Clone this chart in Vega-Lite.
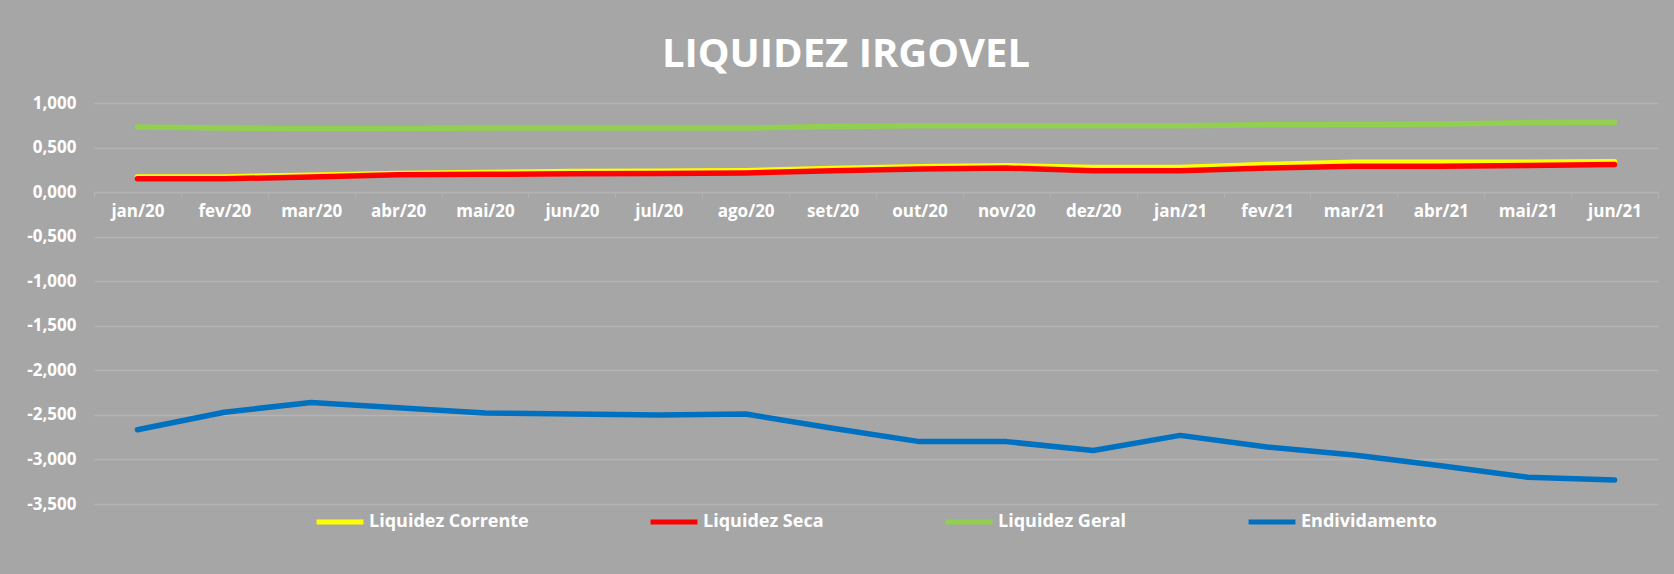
{
  "$schema": "https://vega.github.io/schema/vega-lite/v6.json",
  "autosize": {"type": "none"},
  "width": 1564,
  "height": 401,
  "padding": {"left": 94, "top": 103, "right": 16, "bottom": 70},
  "background": "#a6a6a6",
  "title": {
    "text": "LIQUIDEZ IRGOVEL",
    "font": "Open Sans",
    "fontSize": 40,
    "fontWeight": "bold",
    "color": "#ffffff",
    "anchor": "middle",
    "dx": -30,
    "offset": 19
  },
  "data": {
    "values": [
      {"mes": "jan/20", "Liquidez Corrente": 0.17, "Liquidez Seca": 0.15, "Liquidez Geral": 0.73, "Endividamento": -2.666},
      {"mes": "fev/20", "Liquidez Corrente": 0.17, "Liquidez Seca": 0.15, "Liquidez Geral": 0.72, "Endividamento": -2.47},
      {"mes": "mar/20", "Liquidez Corrente": 0.19, "Liquidez Seca": 0.17, "Liquidez Geral": 0.71, "Endividamento": -2.36},
      {"mes": "abr/20", "Liquidez Corrente": 0.21, "Liquidez Seca": 0.195, "Liquidez Geral": 0.715, "Endividamento": -2.42},
      {"mes": "mai/20", "Liquidez Corrente": 0.22, "Liquidez Seca": 0.2, "Liquidez Geral": 0.72, "Endividamento": -2.48},
      {"mes": "jun/20", "Liquidez Corrente": 0.23, "Liquidez Seca": 0.205, "Liquidez Geral": 0.72, "Endividamento": -2.49},
      {"mes": "jul/20", "Liquidez Corrente": 0.235, "Liquidez Seca": 0.21, "Liquidez Geral": 0.72, "Endividamento": -2.5},
      {"mes": "ago/20", "Liquidez Corrente": 0.24, "Liquidez Seca": 0.215, "Liquidez Geral": 0.72, "Endividamento": -2.49},
      {"mes": "set/20", "Liquidez Corrente": 0.265, "Liquidez Seca": 0.24, "Liquidez Geral": 0.735, "Endividamento": -2.65},
      {"mes": "out/20", "Liquidez Corrente": 0.285, "Liquidez Seca": 0.26, "Liquidez Geral": 0.745, "Endividamento": -2.8},
      {"mes": "nov/20", "Liquidez Corrente": 0.295, "Liquidez Seca": 0.27, "Liquidez Geral": 0.745, "Endividamento": -2.8},
      {"mes": "dez/20", "Liquidez Corrente": 0.275, "Liquidez Seca": 0.24, "Liquidez Geral": 0.745, "Endividamento": -2.9},
      {"mes": "jan/21", "Liquidez Corrente": 0.275, "Liquidez Seca": 0.24, "Liquidez Geral": 0.745, "Endividamento": -2.73},
      {"mes": "fev/21", "Liquidez Corrente": 0.31, "Liquidez Seca": 0.27, "Liquidez Geral": 0.755, "Endividamento": -2.86},
      {"mes": "mar/21", "Liquidez Corrente": 0.335, "Liquidez Seca": 0.29, "Liquidez Geral": 0.76, "Endividamento": -2.95},
      {"mes": "abr/21", "Liquidez Corrente": 0.335, "Liquidez Seca": 0.29, "Liquidez Geral": 0.765, "Endividamento": -3.07},
      {"mes": "mai/21", "Liquidez Corrente": 0.335, "Liquidez Seca": 0.3, "Liquidez Geral": 0.78, "Endividamento": -3.2},
      {"mes": "jun/21", "Liquidez Corrente": 0.34, "Liquidez Seca": 0.31, "Liquidez Geral": 0.785, "Endividamento": -3.23}
    ]
  },
  "transform": [
    {"fold": ["Liquidez Corrente", "Liquidez Seca", "Liquidez Geral", "Endividamento"], "as": ["serie", "valor"]}
  ],
  "mark": {"type": "line", "strokeWidth": 5.5, "strokeCap": "round", "strokeJoin": "round"},
  "encoding": {
    "x": {
      "field": "mes",
      "type": "ordinal",
      "sort": null,
      "bandPosition": 0.5,
      "scale": {"type": "band", "paddingInner": 0, "paddingOuter": 0},
      "axis": {
        "title": null,
        "orient": "bottom",
        "offset": -312,
        "labelAngle": 0,
        "labelFont": "Open Sans",
        "labelFontSize": 17,
        "labelFontWeight": "bold",
        "labelColor": "#ffffff",
        "labelPadding": 6,
        "tickBand": "extent",
        "tickSize": 5,
        "tickColor": "#b4b4b4",
        "domainColor": "#b4b4b4",
        "domainWidth": 1.5,
        "grid": false
      }
    },
    "y": {
      "field": "valor",
      "type": "quantitative",
      "scale": {"domain": [-3.5, 1], "nice": false, "zero": false},
      "axis": {
        "title": null,
        "values": [-3.5, -3, -2.5, -2, -1.5, -1, -0.5, 0, 0.5, 1],
        "labelExpr": "(datum.value < 0 ? '-' : '') + replace(format(abs(datum.value), '.3f'), '.', ',')",
        "labelFont": "Open Sans",
        "labelFontSize": 17,
        "labelFontWeight": "bold",
        "labelColor": "#ffffff",
        "labelPadding": 18,
        "ticks": false,
        "domain": false,
        "grid": true,
        "gridColor": "#b4b4b4",
        "gridWidth": 1.5
      }
    },
    "color": {
      "field": "serie",
      "type": "nominal",
      "scale": {
        "domain": ["Liquidez Corrente", "Liquidez Seca", "Liquidez Geral", "Endividamento"],
        "range": ["#ffff00", "#ff0000", "#92d050", "#0070c0"]
      },
      "legend": {
        "title": null,
        "orient": "none",
        "direction": "horizontal",
        "legendX": 220,
        "legendY": 393,
        "padding": 0,
        "symbolType": "stroke",
        "symbolSize": 2200,
        "symbolStrokeWidth": 5,
        "labelFont": "Open Sans",
        "labelFontSize": 18,
        "labelFontWeight": "bold",
        "labelColor": "#ffffff",
        "labelOffset": 3,
        "columnPadding": 111,
        "labelLimit": 400
      }
    }
  },
  "config": {
    "view": {"stroke": null}
  }
}
